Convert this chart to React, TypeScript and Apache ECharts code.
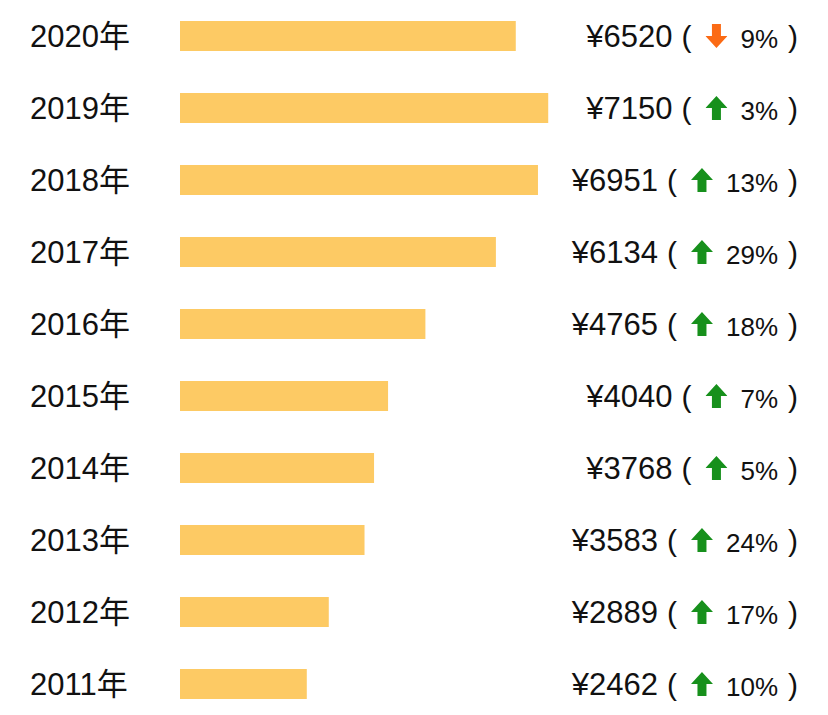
import React, { useEffect, useRef } from 'react';
import * as echarts from 'echarts';

const years = ['2020年', '2019年', '2018年', '2017年', '2016年', '2015年', '2014年', '2013年', '2012年', '2011年'];
const amounts = [6520, 7150, 6951, 6134, 4765, 4040, 3768, 3583, 2889, 2462];
const changes = [-9, 3, 13, 29, 18, 7, 5, 24, 17, 10];

const FONT = '"Liberation Sans", Arial, "Noto Sans CJK SC", sans-serif';

const arrowSvg = (color: string, down: boolean) => {
  const pts = down
    ? '11,24 22,12 15.5,12 15.5,0 6.5,0 6.5,12 0,12'
    : '11,0 22,12 15.5,12 15.5,24 6.5,24 6.5,12 0,12';
  const svg = `<svg xmlns="http://www.w3.org/2000/svg" width="22" height="24" viewBox="0 0 22 24"><polygon points="${pts}" fill="${color}"/></svg>`;
  return 'data:image/svg+xml;charset=utf-8,' + encodeURIComponent(svg);
};

const upIcon = arrowSvg('#17901c', false);
const downIcon = arrowSvg('#fb6a14', true);

export default function App() {
  const chartRef = useRef<HTMLDivElement>(null);

  useEffect(() => {
    const chart = echarts.init(chartRef.current, null, { renderer: 'svg' });

    const option = {
      animation: false,
      grid: { left: 180, right: 30, top: 0, bottom: -5, outerBoundsMode: 'none' },
      xAxis: { type: 'value', min: 0, max: 12000, show: false },
      yAxis: [
        {
          type: 'category',
          data: years,
          inverse: true,
          axisLine: { show: false },
          axisTick: { show: false },
          splitLine: { show: false },
          axisLabel: {
            interval: 0,
            align: 'left',
            margin: 150,
            fontSize: 31,
            color: '#111',
            fontFamily: FONT
          }
        },
        {
          type: 'category',
          position: 'right',
          data: years,
          inverse: true,
          axisLine: { show: false },
          axisTick: { show: false },
          splitLine: { show: false },
          axisLabel: {
            interval: 0,
            align: 'right',
            margin: 0,
            fontFamily: FONT,
            color: '#111',
            formatter: (_v: string, i: number) => {
              const c = changes[i];
              const icon = c < 0 ? 'down' : 'up';
              return `{v|¥${amounts[i]}}{lp|(}{${icon}|}{t|${Math.abs(c)}%}{rp|)}`;
            },
            rich: {
              v: { fontSize: 31, color: '#111', fontFamily: FONT, verticalAlign: 'bottom' },
              lp: { fontSize: 30, color: '#111', fontFamily: FONT, verticalAlign: 'bottom', padding: [0, 14, 0, 9] },
              up: { width: 22, height: 24, verticalAlign: 'middle', backgroundColor: { image: upIcon } },
              down: { width: 22, height: 24, verticalAlign: 'middle', backgroundColor: { image: downIcon } },
              t: { fontSize: 26, color: '#111', fontFamily: FONT, verticalAlign: 'bottom', padding: [0, 10, 0, 13] },
              rp: { fontSize: 30, color: '#111', fontFamily: FONT, verticalAlign: 'bottom' }
            }
          }
        }
      ],
      series: [
        {
          type: 'bar',
          data: amounts,
          barWidth: 30,
          itemStyle: { color: '#fdca64' }
        }
      ]
    };

    chart.setOption(option);
    return () => {
      chart.dispose();
    };
  }, []);

  return (
    <div
      ref={chartRef}
      style={{ position: 'absolute', left: 0, top: 0, width: 828, height: 715, background: '#fff' }}
    ></div>
  );
}
